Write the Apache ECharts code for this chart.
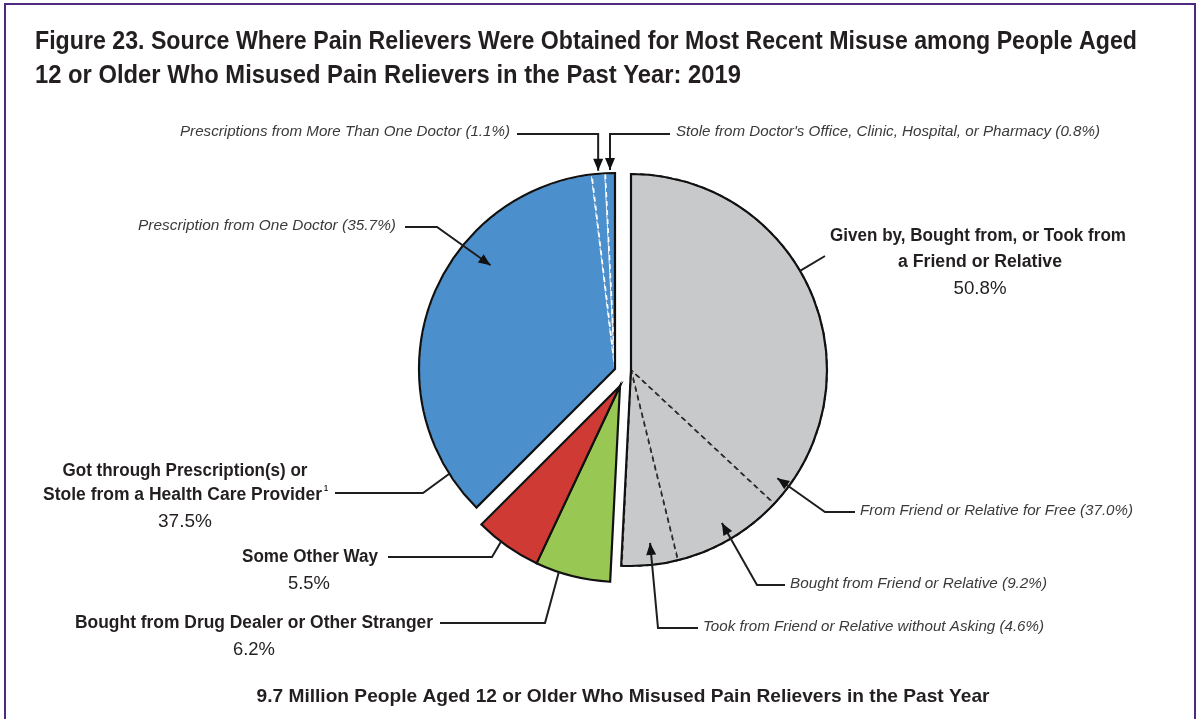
<!DOCTYPE html>
<html>
<head>
<meta charset="utf-8">
<script src="https://cdn.jsdelivr.net/npm/echarts@6/dist/echarts.min.js"></script>
<style>
  html, body { margin: 0; padding: 0; background: #ffffff; }
  #chart { width: 1201px; height: 719px; }
</style>
</head>
<body>
<div id="chart"></div>
<script>
// Source where pain relievers were obtained for most recent misuse, 2019 (percent)
const groupNames = [
  'Given by, Bought from, or Took from a Friend or Relative',
  'Bought from Drug Dealer or Other Stranger',
  'Some Other Way',
  'Got through Prescription(s) or Stole from a Health Care Provider'
];
const groupValues = [50.8, 6.2, 5.5, 37.5];

const sliceNames = [
  'From Friend or Relative for Free',
  'Bought from Friend or Relative',
  'Took from Friend or Relative without Asking',
  'Bought from Drug Dealer or Other Stranger',
  'Some Other Way',
  'Prescription from One Doctor',
  'Prescriptions from More Than One Doctor',
  "Stole from Doctor's Office, Clinic, Hospital, or Pharmacy"
];
const sliceValues = [37.0, 9.2, 4.6, 6.2, 5.5, 35.7, 1.1, 0.8];
const sliceGroup = [0, 0, 0, 1, 2, 3, 3, 3];

const titleLines = [
  'Figure 23. Source Where Pain Relievers Were Obtained for Most Recent Misuse among People Aged',
  '12 or Older Who Misused Pain Relievers in the Past Year: 2019'
];
const footerText = '9.7 Million People Aged 12 or Older Who Misused Pain Relievers in the Past Year';

// ---- layout & style ----
const R = 196;
const groupCenters = [[631, 370], [620, 386], [620, 386], [615, 369]];
const groupColors = ['#c8c9cb', '#98c853', '#cf3a35', '#4b8fcd'];
const subBorder = [
  { color: '#2a2a2a', type: [5, 4], width: 1.7 },
  null,
  null,
  { color: '#ffffff', type: [5, 4], width: 1.8 }
];
const FONT = '"Liberation Sans", Arial, Helvetica, sans-serif';
const INK = '#231f20';
const LABEL_INK = '#3a3a3a';

const total = sliceValues.reduce((a, b) => a + b, 0);
const clear = 'rgba(0,0,0,0)';

function polar(c, r, deg) {
  const a = deg * Math.PI / 180;
  return [c[0] + r * Math.sin(a), c[1] - r * Math.cos(a)];
}
function sliceMidAngle(i) {
  let acc = 0;
  for (let k = 0; k < i; k++) acc += sliceValues[k];
  return (acc + sliceValues[i] / 2) / total * 360;
}
function pct(v) { return v.toFixed(1) + '%'; }

// ---- pie series: one filled layer and one outline layer per group ----
const series = [];
const pieBase = {
  type: 'pie', silent: true, animation: false, radius: [0, R],
  startAngle: 90, clockwise: true, avoidLabelOverlap: false,
  label: { show: false }, labelLine: { show: false }, emphasis: { disabled: true }
};
groupValues.forEach((gv, g) => {
  const sb = subBorder[g];
  series.push(Object.assign({}, pieBase, {
    center: groupCenters[g],
    data: sliceValues.map((v, i) => ({
      name: sliceNames[i],
      value: v,
      itemStyle: sliceGroup[i] === g
        ? (sb ? { color: groupColors[g], borderColor: sb.color, borderType: sb.type, borderWidth: sb.width }
              : { color: groupColors[g], borderWidth: 0 })
        : { color: clear, borderWidth: 0 }
    }))
  }));
  series.push(Object.assign({}, pieBase, {
    center: groupCenters[g],
    data: groupValues.map((v, j) => ({
      name: groupNames[j],
      value: v,
      itemStyle: j === g
        ? { color: clear, borderColor: '#111111', borderWidth: 2.2, borderJoin: 'miter' }
        : { color: clear, borderWidth: 0 }
    }))
  }));
});

// ---- annotations ----
const graphics = [];
const LINE = { stroke: '#1e1e1e', lineWidth: 2, fill: null };
const measureCtx = document.createElement('canvas').getContext('2d');

function textWidth(text, size, weight, style) {
  measureCtx.font = (style || 'normal') + ' ' + (weight || 'normal') + ' ' + size + 'px ' + FONT;
  return measureCtx.measureText(text).width;
}

// text squeezed horizontally to a given width (condensed face look)
function addText(x, y, text, width, opts) {
  const o = Object.assign({ fontSize: 18, fontWeight: 'bold', fontStyle: 'normal', fill: INK, align: 'center' }, opts || {});
  const w = textWidth(text, o.fontSize, o.fontWeight, o.fontStyle);
  graphics.push({
    type: 'text', x: x, y: y, z: 100, silent: true,
    scaleX: width / w, scaleY: 1,
    style: {
      text: text, fill: o.fill, fontFamily: FONT, fontSize: o.fontSize,
      fontWeight: o.fontWeight, fontStyle: o.fontStyle,
      align: o.align, verticalAlign: 'middle'
    }
  });
}
function addItalic(x, y, text, width, align) {
  addText(x, y, text, width, { fill: LABEL_INK, fontSize: 15, fontWeight: 'normal', fontStyle: 'italic', align: align });
}
function addLeader(points, arrow) {
  graphics.push({ type: 'polyline', z: 100, silent: true, shape: { points: points }, style: LINE });
  if (arrow) {
    const p1 = points[points.length - 2], p2 = points[points.length - 1];
    const dx = p2[0] - p1[0], dy = p2[1] - p1[1];
    const len = Math.hypot(dx, dy);
    const ux = dx / len, uy = dy / len;
    const L = 12, W = 5;
    const bx = p2[0] - ux * L, by = p2[1] - uy * L;
    graphics.push({
      type: 'polygon', z: 101, silent: true,
      shape: { points: [p2, [bx - uy * W, by + ux * W], [bx + uy * W, by - ux * W]] },
      style: { fill: '#111111' }
    });
  }
}

// frame
graphics.push({
  type: 'rect', z: 100, silent: true,
  shape: { x: 5, y: 4, width: 1190, height: 740 },
  style: { fill: null, stroke: '#4e2a7e', lineWidth: 2 }
});

// title and footer
addText(35, 42, titleLines[0], 1102, { fontSize: 25, align: 'left' });
addText(35, 76, titleLines[1], 706, { fontSize: 25, align: 'left' });
addText(623, 697, footerText, 733, { fontSize: 19 });

// top arrows onto the two thin prescription slices
const tipMulti = polar(groupCenters[3], R + 3, sliceMidAngle(6));
addItalic(510, 132, sliceNames[6] + ' (' + pct(sliceValues[6]) + ')', 330, 'right');
addLeader([[517, 134], [tipMulti[0], 134], tipMulti], true);

const tipStole = polar(groupCenters[3], R + 3, sliceMidAngle(7));
addItalic(676, 132, sliceNames[7] + ' (' + pct(sliceValues[7]) + ')', 424, 'left');
addLeader([[670, 134], [tipStole[0], 134], tipStole], true);

// prescription from one doctor
addItalic(396, 226, sliceNames[5] + ' (' + pct(sliceValues[5]) + ')', 258, 'right');
addLeader([[405, 227], [437, 227], polar(groupCenters[3], 162, 309.8)], true);

// friend or relative group
addText(978, 236, 'Given by, Bought from, or Took from', 296);
addText(980, 262, 'a Friend or Relative', 164);
addText(980, 289, pct(groupValues[0]), 53, { fontWeight: 'normal' });
addLeader([polar(groupCenters[0], R, 59.6), [825, 256]], false);

// friend or relative sub-slices
addItalic(860, 511, sliceNames[0] + ' (' + pct(sliceValues[0]) + ')', 273, 'left');
addLeader([[855, 512], [825, 512], polar(groupCenters[0], 182, 126.5)], true);

addItalic(790, 584, sliceNames[1] + ' (' + pct(sliceValues[1]) + ')', 257, 'left');
addLeader([[785, 585], [757, 585], polar(groupCenters[0], 178, 149.3)], true);

addItalic(703, 627, sliceNames[2] + ' (' + pct(sliceValues[2]) + ')', 341, 'left');
addLeader([[698, 628], [658, 628], polar(groupCenters[0], 174, 173.7)], true);

// prescription / health care provider group
addText(185, 471, 'Got through Prescription(s) or', 245);
addText(43, 495, 'Stole from a Health Care Provider', 279, { align: 'left' });
addText(326, 489, '1', 4, { fontSize: 9, align: 'center' });
addText(185, 522, pct(groupValues[3]), 54, { fontWeight: 'normal' });
addLeader([[335, 493], [423, 493], polar(groupCenters[3], R, 237.7)], false);

// some other way
addText(310, 557, groupNames[2], 136);
addText(309, 584, pct(groupValues[2]), 42, { fontWeight: 'normal' });
addLeader([[388, 557], [492, 557], polar(groupCenters[2], R, 217.4)], false);

// drug dealer or stranger
addText(254, 623, groupNames[1], 358);
addText(254, 650, pct(groupValues[1]), 42, { fontWeight: 'normal' });
addLeader([[440, 623], [545, 623], polar(groupCenters[1], R, 198.2)], false);

const chart = echarts.init(document.getElementById('chart'), null, { renderer: 'canvas' });
chart.setOption({
  backgroundColor: '#ffffff',
  animation: false,
  series: series,
  graphic: graphics
});
</script>
</body>
</html>
